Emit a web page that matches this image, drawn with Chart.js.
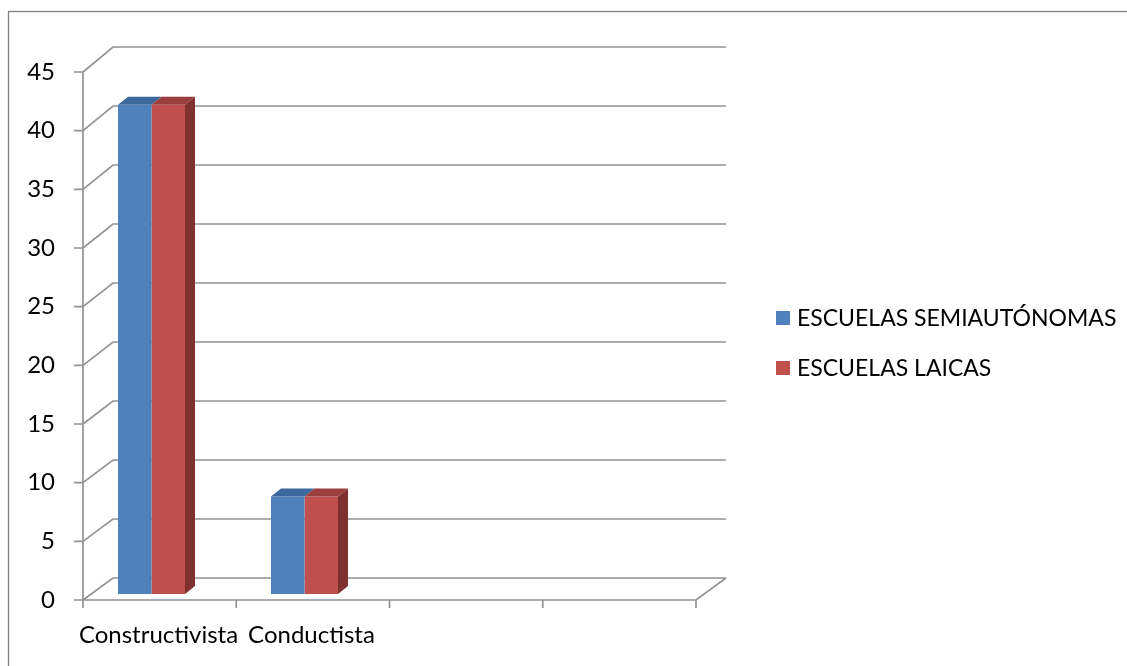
<!DOCTYPE html>
<html>
<head>
<meta charset="utf-8">
<script src="https://cdn.jsdelivr.net/npm/chart.js@4.4.1/dist/chart.umd.min.js"></script>
<style>
  html, body { margin: 0; padding: 0; background: #fff; }
</style>
</head>
<body>
<canvas id="chart" width="1127" height="666"></canvas>
<script>
// data
const categories = ["Constructivista", "Conductista", "", ""];
const semiautonomas = [41.7, 8.3, null, null];
const laicas = [41.7, 8.3, null, null];
const seriesNames = ["ESCUELAS SEMIAUTÓNOMAS", "ESCUELAS LAICAS"];
const yTicks = [0, 5, 10, 15, 20, 25, 30, 35, 40, 45];

const FONT = "Lato, 'Open Sans', sans-serif";
const faceColors = ["#4f81bd", "#c0504d"];
const topColors = ["#3d689c", "#9a3f3d"];
const sideColors = ["#375d8b", "#7f302f"];

// Excel-ish 3d look: walls, floor, bar tops and sides
const frame3d = {
  id: "frame3d",
  beforeDatasetsDraw(chart) {
    const ctx = chart.ctx;
    const y = chart.scales.y;
    const a = chart.chartArea;
    const fl = a.left + 8, fr = a.right + 9;
    const front = v => y.getPixelForValue(v) + 6;
    const back = v => front(v) - 22 - 3 * v / 45;

    ctx.save();
    ctx.strokeStyle = "#939393";
    ctx.lineWidth = 1.7;
    ctx.beginPath();
    yTicks.forEach(v => {
      ctx.moveTo(fl, front(v));
      ctx.lineTo(fl + 30, back(v));
      ctx.lineTo(fr + 30, back(v));
      ctx.moveTo(fl - 9, front(v));
      ctx.lineTo(fl, front(v));
    });
    ctx.moveTo(fl, front(45));
    ctx.lineTo(fl, front(0));
    ctx.lineTo(fr, front(0));
    ctx.lineTo(fr + 30, back(0));
    for (let i = 0; i <= categories.length; i++) {
      const px = fl + (fr - fl) * i / categories.length;
      ctx.moveTo(px, front(0));
      ctx.lineTo(px, front(0) + 8);
    }
    ctx.stroke();
    ctx.restore();
  },
  afterDatasetsDraw(chart) {
    const ctx = chart.ctx;
    const last = chart.data.datasets.length - 1;
    ctx.save();
    chart.data.datasets.forEach((ds, di) => {
      const meta = chart.getDatasetMeta(di);
      meta.data.forEach((bar, i) => {
        if (ds.data[i] == null) return;
        const p = bar.getProps(["x", "y", "base", "width"], true);
        const l = p.x - p.width / 2, r = p.x + p.width / 2;
        ctx.fillStyle = topColors[di];
        ctx.beginPath();
        ctx.moveTo(l, p.y);
        ctx.lineTo(r, p.y);
        ctx.lineTo(r + 10, p.y - 8);
        ctx.lineTo(l + 10, p.y - 8);
        ctx.closePath();
        ctx.fill();
        if (di === last) {
          ctx.fillStyle = sideColors[di];
          ctx.beginPath();
          ctx.moveTo(r, p.y);
          ctx.lineTo(r + 10, p.y - 8);
          ctx.lineTo(r + 10, p.base - 8);
          ctx.lineTo(r, p.base);
          ctx.closePath();
          ctx.fill();
        }
      });
    });
    ctx.restore();
  },
  afterDraw(chart) {
    const ctx = chart.ctx;
    ctx.save();
    // outer border
    ctx.strokeStyle = "#7f7f7f";
    ctx.lineWidth = 1.3;
    ctx.strokeRect(8.5, 11.5, 1300, 800);
    // legend
    ctx.font = "23px " + FONT;
    ctx.textBaseline = "middle";
    chart.data.datasets.forEach((ds, di) => {
      const cy = 318 + di * 50;
      ctx.fillStyle = ds.backgroundColor;
      ctx.fillRect(776, cy - 7, 14, 14);
      ctx.fillStyle = "#000";
      ctx.fillText(ds.label, 797, cy + 1);
    });
    ctx.restore();
  }
};

new Chart(document.getElementById("chart"), {
  type: "bar",
  data: {
    labels: categories,
    datasets: [
      { label: seriesNames[0], data: semiautonomas, backgroundColor: faceColors[0] },
      { label: seriesNames[1], data: laicas, backgroundColor: faceColors[1] },
    ],
  },
  options: {
    responsive: false,
    animation: false,
    layout: { padding: { top: 66, left: 0, right: 440, bottom: 0 } },
    datasets: { bar: { barPercentage: 1, categoryPercentage: 0.438, borderWidth: 0 } },
    plugins: { legend: { display: false }, tooltip: { enabled: false } },
    scales: {
      x: {
        grid: { display: false, drawTicks: false },
        border: { display: false },
        ticks: { color: "#000", font: { family: FONT, size: 24 }, padding: 27, labelOffset: 7, maxRotation: 0, autoSkip: false },
        afterFit: s => { s.height = 72; },
      },
      y: {
        min: 0,
        max: 45,
        grid: { display: false, drawTicks: false },
        border: { display: false },
        ticks: { stepSize: 5, color: "#000", font: { family: FONT, size: 24 }, padding: 20, labelOffset: 6 },
        afterFit: s => { s.width = 75; },
      },
    },
  },
  plugins: [frame3d],
});
</script>
</body>
</html>
